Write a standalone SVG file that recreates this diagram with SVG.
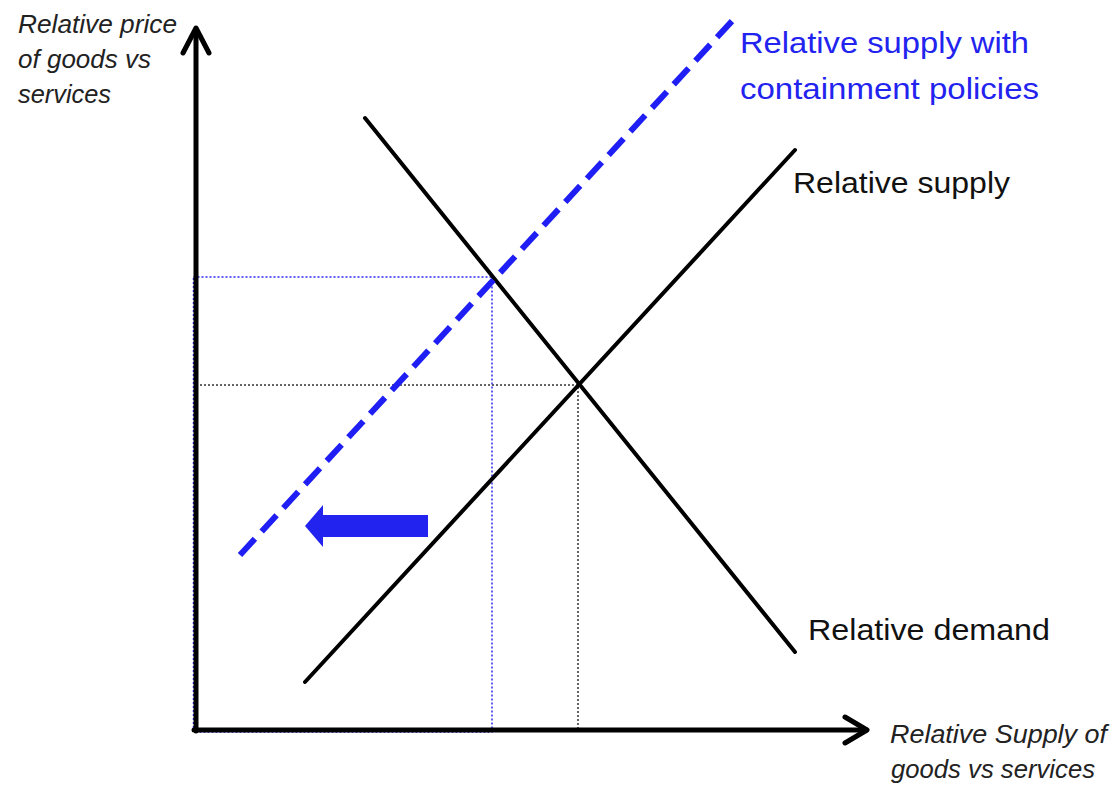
<svg xmlns="http://www.w3.org/2000/svg" width="1111" height="786" viewBox="0 0 1111 786">
<style>
.ax{stroke:#000;stroke-width:5;fill:none;stroke-linecap:round;stroke-linejoin:round}
.curve{stroke:#000;stroke-width:4;fill:none;stroke-linecap:round}
.blued{stroke:#1f1ff5;stroke-width:6;fill:none;stroke-dasharray:22 10}
.dotb{stroke:#2a2af0;stroke-width:1.5;fill:none;stroke-dasharray:2 2}
.dotk{stroke:#333;stroke-width:1.5;fill:none;stroke-dasharray:2 2}
.lbl{font-family:"Liberation Sans",Arial,sans-serif;font-size:30px;fill:#111}
.it{font-family:"Liberation Sans",Arial,sans-serif;font-size:25px;font-style:italic;fill:#222}
.blu{fill:#2323f0}
</style>
<rect width="1111" height="786" fill="#fff"/>
<g id="guides">
<rect class="dotb" x="193.5" y="277" width="298.5" height="455"/>
<polyline class="dotk" points="196,385 578,385 578,730"/>
</g>
<g id="axes">
<line class="ax" x1="196" y1="731" x2="196" y2="29"/>
<polyline class="ax" points="183,53 196,28 209,53"/>
<line class="ax" x1="194" y1="730" x2="866" y2="730"/>
<polyline class="ax" points="845,717 867,730 845,743"/>
</g>
<g id="connectors">
<line id="supply" class="curve" x1="305" y1="682" x2="795" y2="150"/>
<line id="demand" class="curve" x1="365" y1="118" x2="795" y2="652"/>
<line id="supply-contained" class="blued" x1="240" y1="555" x2="733" y2="20"/>
<polygon id="shift-arrow" class="blu" points="305,526 323,505 323,515 428,515 428,537 323,537 323,547"/>
</g>
<g id="label-y">
<text class="it" x="18" y="33" textLength="159" lengthAdjust="spacingAndGlyphs">Relative price</text>
<text class="it" x="18" y="68" textLength="133" lengthAdjust="spacingAndGlyphs">of goods vs</text>
<text class="it" x="18" y="103" textLength="93" lengthAdjust="spacingAndGlyphs">services</text>
</g>
<g id="label-x">
<text class="it" x="890" y="743" textLength="217" lengthAdjust="spacingAndGlyphs">Relative Supply of</text>
<text class="it" x="891" y="778" textLength="204" lengthAdjust="spacingAndGlyphs">goods vs services</text>
</g>
<g id="label-contained">
<text class="lbl blu" x="740" y="53" textLength="289" lengthAdjust="spacingAndGlyphs">Relative supply with</text>
<text class="lbl blu" x="740" y="99" textLength="299" lengthAdjust="spacingAndGlyphs">containment policies</text>
</g>
<g id="label-supply">
<text class="lbl" x="793" y="193" textLength="217" lengthAdjust="spacingAndGlyphs">Relative supply</text>
</g>
<g id="label-demand">
<text class="lbl" x="808" y="640" textLength="242" lengthAdjust="spacingAndGlyphs">Relative demand</text>
</g>
</svg>
